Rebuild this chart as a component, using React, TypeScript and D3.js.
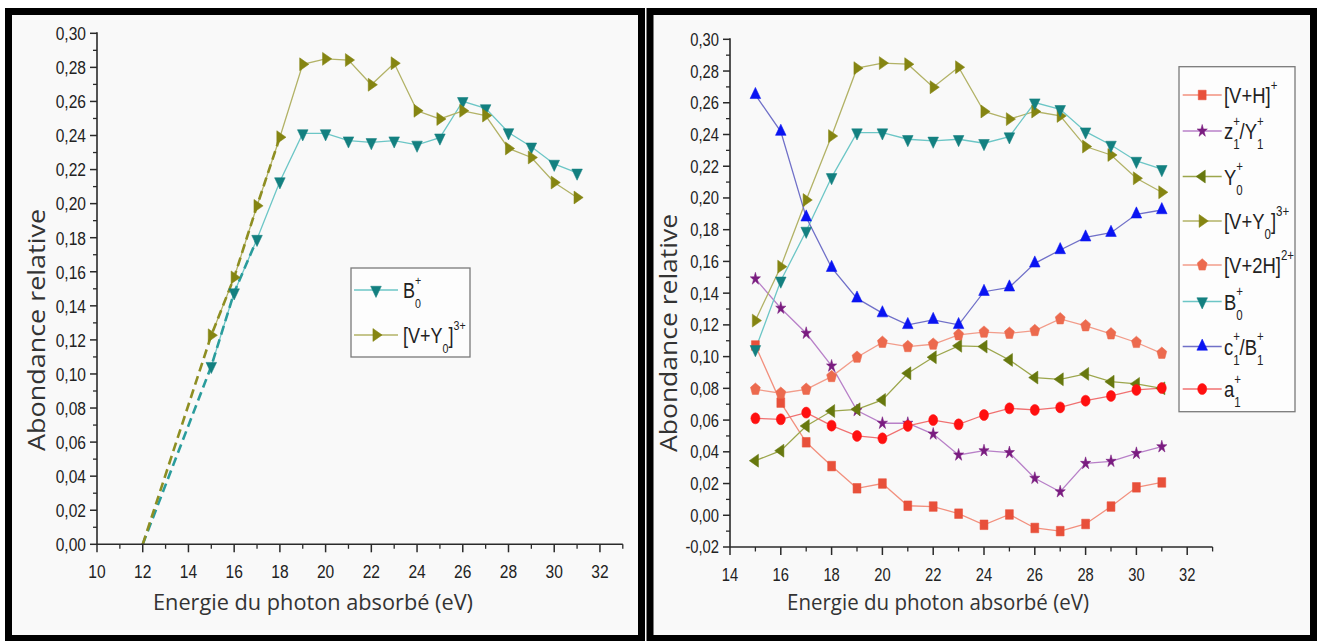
import React from 'react';
import * as d3 from 'd3';

// ---------- data ----------
const energies = [15, 16, 17, 18, 19, 20, 21, 22, 23, 24, 25, 26, 27, 28, 29, 30, 31];
const vH = [0.107, 0.071, 0.046, 0.031, 0.017, 0.020, 0.006, 0.0055, 0.001, -0.006, 0.0005, -0.008, -0.010, -0.0055, 0.0055, 0.0176, 0.0207];
const z1 = [0.149, 0.1305, 0.1147, 0.0941, 0.066, 0.058, 0.058, 0.0512, 0.038, 0.0407, 0.0395, 0.0233, 0.0148, 0.0327, 0.034, 0.039, 0.0432];
const y0 = [0.0344, 0.0407, 0.0563, 0.0657, 0.0668, 0.0727, 0.0895, 0.0996, 0.1068, 0.1063, 0.0979, 0.0868, 0.0857, 0.0891, 0.0842, 0.0828, 0.080];
const vY0 = [0.1227, 0.1567, 0.1987, 0.239, 0.2818, 0.285, 0.2843, 0.2698, 0.2824, 0.2545, 0.2497, 0.2545, 0.2517, 0.2324, 0.2271, 0.2124, 0.2036];
const v2H = [0.0794, 0.0769, 0.0794, 0.0874, 0.0996, 0.109, 0.1063, 0.1078, 0.1137, 0.1154, 0.1147, 0.1164, 0.1238, 0.1194, 0.1143, 0.1089, 0.1021];
const b0 = [0.1046, 0.1478, 0.1792, 0.213, 0.2412, 0.2412, 0.237, 0.236, 0.237, 0.2345, 0.2387, 0.2601, 0.2559, 0.2418, 0.2334, 0.2233, 0.2181];
const c1 = [0.265, 0.2418, 0.1878, 0.156, 0.1367, 0.1274, 0.12, 0.1232, 0.12, 0.1409, 0.1437, 0.1588, 0.1672, 0.1752, 0.1781, 0.1897, 0.1924];
const a1 = [0.0611, 0.0605, 0.0647, 0.0565, 0.05, 0.0485, 0.0563, 0.06, 0.0573, 0.0632, 0.0674, 0.0664, 0.068, 0.0722, 0.0752, 0.079, 0.0802];

// onset point of the dashed extrapolations (left panel)
const onsetEnergy = 12;
const onsetValue = 0;
const b0DashEnd = 17;
const vY0DashEnd = 18;

const leftXTicks = [10, 12, 14, 16, 18, 20, 22, 24, 26, 28, 30, 32];
const leftYTicks = [0, 0.02, 0.04, 0.06, 0.08, 0.1, 0.12, 0.14, 0.16, 0.18, 0.2, 0.22, 0.24, 0.26, 0.28, 0.3];
const rightXTicks = [14, 16, 18, 20, 22, 24, 26, 28, 30, 32];
const rightYTicks = [-0.02, 0, 0.02, 0.04, 0.06, 0.08, 0.1, 0.12, 0.14, 0.16, 0.18, 0.2, 0.22, 0.24, 0.26, 0.28, 0.3];

const xTitle = 'Energie du photon absorbé (eV)';
const yTitle = 'Abondance relative';

type Seg = { n?: string; sup?: string; sub?: string; stack?: [string, string] };

const labVH: Seg[] = [{ n: '[V+H]' }, { sup: '+' }];
const labZ1: Seg[] = [{ n: 'z' }, { stack: ['+', '1'] }, { n: '/Y' }, { stack: ['+', '1'] }];
const labY0: Seg[] = [{ n: 'Y' }, { stack: ['+', '0'] }];
const labVY0: Seg[] = [{ n: '[V+Y' }, { sub: '0' }, { n: ']' }, { sup: '3+' }];
const labV2H: Seg[] = [{ n: '[V+2H]' }, { sup: '2+' }];
const labB0: Seg[] = [{ n: 'B' }, { stack: ['+', '0'] }];
const labC1: Seg[] = [{ n: 'c' }, { stack: ['+', '1'] }, { n: '/B' }, { stack: ['+', '1'] }];
const labA1: Seg[] = [{ n: 'a' }, { stack: ['+', '1'] }];

type Sym = 'square' | 'star' | 'triLeft' | 'triRight' | 'triDown' | 'triUp' | 'pentagon' | 'circle';
interface Series { values: number[]; label: Seg[]; sym: Sym; fill: string; line: string }

const rightSeries: Series[] = [
  { values: vH, label: labVH, sym: 'square', fill: '#E8503A', line: '#F2907E' },
  { values: z1, label: labZ1, sym: 'star', fill: '#7A1C80', line: '#B880C8' },
  { values: y0, label: labY0, sym: 'triLeft', fill: '#67780E', line: '#9CA64C' },
  { values: vY0, label: labVY0, sym: 'triRight', fill: '#858512', line: '#B2B266' },
  { values: v2H, label: labV2H, sym: 'pentagon', fill: '#EC6A4E', line: '#F29C8A' },
  { values: b0, label: labB0, sym: 'triDown', fill: '#138080', line: '#6CC6C6' },
  { values: c1, label: labC1, sym: 'triUp', fill: '#0A14F2', line: '#7070C8' },
  { values: a1, label: labA1, sym: 'circle', fill: '#FF1010', line: '#F07070' },
];
const leftSeries: Series[] = [rightSeries[5], rightSeries[3]];

// ---------- helpers ----------
const SX = 0.82;
const fmt = (v: number) => v.toFixed(2).replace('.', ',');

function symPath(sym: Sym): string {
  if (sym === 'square') return d3.symbol(d3.symbolSquare, 92)()!;
  if (sym === 'star') return d3.symbol(d3.symbolStar, 48)()!;
  if (sym === 'circle') return d3.symbol(d3.symbolCircle, 95)()!;
  if (sym === 'pentagon') {
    const r = 6.3;
    const pts = d3.range(5).map((i) => {
      const a = -Math.PI / 2 + (i * 2 * Math.PI) / 5;
      return [r * Math.cos(a), r * Math.sin(a)] as [number, number];
    });
    return 'M' + pts.map((p) => p.join(',')).join('L') + 'Z';
  }
  return d3.symbol(d3.symbolTriangle, 72)()!;
}
const symRot: Record<Sym, number> = {
  square: 0, star: 0, circle: 0, pentagon: 0, triUp: 0, triDown: 180, triLeft: -90, triRight: 90,
};

function Marker({ x, y, sym, fill }: { x: number; y: number; sym: Sym; fill: string }) {
  return (
    <path
      d={symPath(sym)}
      fill={fill}
      stroke={fill}
      strokeWidth={0.6}
      transform={`translate(${x},${y}) scale(${SX},1) rotate(${symRot[sym]})`}
    />
  );
}

function Rich({ x, y, segs, size }: { x: number; y: number; segs: Seg[]; size: number }) {
  const small = Math.round(size * 0.6);
  const supOff = -0.58 * size;
  const subOff = 0.45 * size;
  let cur = 0;
  const out: React.ReactNode[] = [];
  segs.forEach((s, i) => {
    if (s.n !== undefined) {
      out.push(<tspan key={i} dy={-cur} fontSize={size}>{s.n}</tspan>);
      cur = 0;
    } else if (s.sup) {
      out.push(<tspan key={i} dy={supOff - cur} fontSize={small}>{s.sup}</tspan>);
      cur = supOff;
    } else if (s.sub) {
      out.push(<tspan key={i} dy={subOff - cur} fontSize={small}>{s.sub}</tspan>);
      cur = subOff;
    } else if (s.stack) {
      out.push(<tspan key={i + 'a'} dy={supOff - cur} fontSize={small}>{s.stack[0]}</tspan>);
      out.push(<tspan key={i + 'b'} dx={-0.584 * small} dy={subOff - supOff} fontSize={small}>{s.stack[1]}</tspan>);
      cur = subOff;
    }
  });
  return (
    <g transform={`translate(${x},${y}) scale(${SX},1)`}>
      <text x={0} y={0} fontFamily="'Liberation Sans', Arial, sans-serif" fill="#222">{out}</text>
    </g>
  );
}

interface PanelProps {
  xDomain: [number, number]; xRange: [number, number];
  yDomain: [number, number]; yRange: [number, number];
  xTicks: number[]; yTicks: number[];
  tickFont: number;
  series: Series[];
  yTitleX: number; yTitleY: number; yTitleLen: number;
  xTitleX: number; xTitleY: number; xTitleLen: number; xTitleFont: number;
  legend: { x0: number; y0: number; x1: number; y1: number; lineX0: number; lineX1: number; textX: number; rows: number[]; font: number };
  dashed?: boolean;
}

function Panel(p: PanelProps) {
  const x = d3.scaleLinear().domain(p.xDomain).range(p.xRange);
  const y = d3.scaleLinear().domain(p.yDomain).range(p.yRange);
  const line = d3.line<[number, number]>().x((d) => x(d[0])).y((d) => y(d[1]));
  const ax = p.xRange[0];
  const ay = p.yRange[0];
  const xMinor = d3.range(p.xDomain[0] + 1, p.xDomain[1] + 0.5, 2);
  const yMinor = p.yTicks.slice(0, -1).map((t) => t + 0.01);
  const axisCol = '#2a2a2a';
  return (
    <g>
      {p.series.map((s, i) => (
        <path key={'l' + i} d={line(energies.map((e, j) => [e, s.values[j]] as [number, number]))!}
          fill="none" stroke={s.line} strokeWidth={1.3} />
      ))}
      {p.dashed && [
        { s: p.series[0], end: b0DashEnd, col: '#2A9C9C' },
        { s: p.series[1], end: vY0DashEnd, col: '#8E8E22' },
      ].map((d, i) => {
        const pts: [number, number][] = [[onsetEnergy, onsetValue]];
        energies.forEach((e, j) => { if (e <= d.end) pts.push([e, d.s.values[j]]); });
        return <path key={'d' + i} d={line(pts)!} fill="none" stroke={d.col} strokeWidth={2.6} strokeDasharray="9 5" />;
      })}
      {p.series.map((s, i) => (
        <g key={'m' + i}>
          {energies.map((e, j) => (
            <Marker key={j} x={x(e)} y={y(s.values[j])} sym={s.sym} fill={s.fill} />
          ))}
        </g>
      ))}
      <line x1={ax} x2={p.xRange[1]} y1={ay} y2={ay} stroke={axisCol} strokeWidth={1.6} />
      <line x1={ax} x2={ax} y1={ay} y2={p.yRange[1] - 1} stroke={axisCol} strokeWidth={1.6} />
      {p.xTicks.map((t) => (
        <g key={'xt' + t}>
          <line x1={x(t)} x2={x(t)} y1={ay} y2={ay + 8} stroke={axisCol} strokeWidth={1.5} />
          <g transform={`translate(${x(t)},${ay + 34}) scale(${SX},1)`}>
            <text textAnchor="middle" fontSize={p.tickFont} fontFamily="'Liberation Sans', Arial, sans-serif" fill="#222">{t}</text>
          </g>
        </g>
      ))}
      {xMinor.map((t) => (
        <line key={'xm' + t} x1={x(t)} x2={x(t)} y1={ay} y2={ay + 4.5} stroke={axisCol} strokeWidth={1.3} />
      ))}
      {p.yTicks.map((t) => (
        <g key={'yt' + t}>
          <line x1={ax - 7} x2={ax} y1={y(t)} y2={y(t)} stroke={axisCol} strokeWidth={1.5} />
          <g transform={`translate(${ax - 11},${y(t) + p.tickFont * 0.36}) scale(${SX},1)`}>
            <text textAnchor="end" fontSize={p.tickFont} fontFamily="'Liberation Sans', Arial, sans-serif" fill="#222">{fmt(t)}</text>
          </g>
        </g>
      ))}
      {yMinor.map((t) => (
        <line key={'ym' + t} x1={ax - 4} x2={ax} y1={y(t)} y2={y(t)} stroke={axisCol} strokeWidth={1.3} />
      ))}
      <text x={p.xTitleX} y={p.xTitleY} textAnchor="middle" fontSize={p.xTitleFont}
        fontFamily="'Open Sans', 'Noto Sans', sans-serif" fill="#333"
        textLength={p.xTitleLen} lengthAdjust="spacingAndGlyphs">{xTitle}</text>
      <g transform={`translate(${p.yTitleX},${p.yTitleY}) scale(${SX},1) rotate(-90)`}>
        <text x={0} y={0} textAnchor="middle" fontSize={28} dy="0.35em"
          fontFamily="'Open Sans', 'Noto Sans', sans-serif" fill="#333"
          textLength={p.yTitleLen} lengthAdjust="spacingAndGlyphs">{yTitle}</text>
      </g>
      <rect x={p.legend.x0} y={p.legend.y0} width={p.legend.x1 - p.legend.x0} height={p.legend.y1 - p.legend.y0}
        fill="#fdfdfd" stroke="#7a7a7a" strokeWidth={1.3} />
      {p.series.map((s, i) => {
        const ry = p.legend.rows[i];
        return (
          <g key={'lg' + i}>
            <line x1={p.legend.lineX0} x2={p.legend.lineX1} y1={ry} y2={ry} stroke={s.line} strokeWidth={1.4} />
            <Marker x={(p.legend.lineX0 + p.legend.lineX1) / 2} y={ry} sym={s.sym} fill={s.fill} />
            <Rich x={p.legend.textX} y={ry + 8} segs={s.label} size={p.legend.font} />
          </g>
        );
      })}
    </g>
  );
}

export default function App() {
  return (
    <svg width={1317} height={641} style={{ display: 'block', position: 'absolute', left: 0, top: 0 }}>
      <rect x={0} y={0} width={1317} height={641} fill="#ffffff" />
      <rect x={8.5} y={11.5} width={633} height={627} fill="#f9f9f9" stroke="#000" strokeWidth={7} />
      <rect x={650} y={11.5} width={663.5} height={627} fill="#f9f9f9" stroke="#000" strokeWidth={7} />
      <Panel
        xDomain={[10, 33]} xRange={[97, 622.8]}
        yDomain={[0, 0.3]} yRange={[544.3, 33.3]}
        xTicks={leftXTicks} yTicks={leftYTicks} tickFont={19}
        series={leftSeries}
        yTitleX={37} yTitleY={330} yTitleLen={242}
        xTitleX={313} xTitleY={610} xTitleLen={320} xTitleFont={22}
        legend={{ x0: 351, y0: 268, x1: 470, y1: 357, lineX0: 354, lineX1: 398, textX: 403, rows: [290, 335], font: 22 }}
        dashed
      />
      <Panel
        xDomain={[14, 33]} xRange={[730, 1212.6]}
        yDomain={[-0.02, 0.3]} yRange={[547, 39.3]}
        xTicks={rightXTicks} yTicks={rightYTicks} tickFont={18}
        series={rightSeries}
        yTitleX={669} yTitleY={333} yTitleLen={238}
        xTitleX={938} xTitleY={610} xTitleLen={302} xTitleFont={21}
        legend={{ x0: 1179, y0: 66.7, x1: 1295, y1: 411.7, lineX0: 1182.7, lineX1: 1221.7, textX: 1224, rows: [95, 131, 176.5, 221, 265, 301.5, 346.5, 389], font: 22.5 }}
      />
    </svg>
  );
}
